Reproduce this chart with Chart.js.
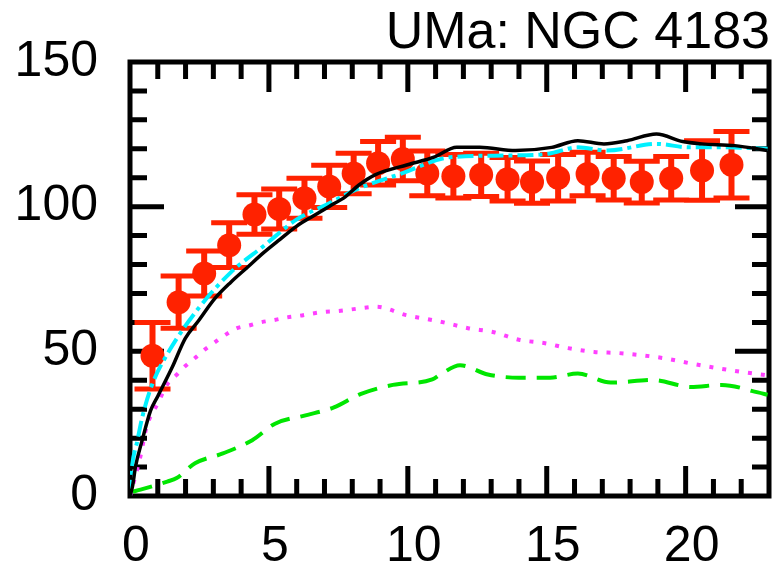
<!DOCTYPE html>
<html><head><meta charset="utf-8">
<script src="https://cdn.jsdelivr.net/npm/chart.js@4"></script>
<style>html,body{margin:0;padding:0;background:#fff}#wrap{width:781px;height:567px}</style>
</head><body><div id="wrap"><canvas id="c" width="781" height="567"></canvas></div>
<script>
const TITLE = 'UMa: NGC 4183';
const xTicks = [0, 5, 10, 15, 20];
const yTicks = [0, 50, 100, 150];

// observed rotation curve
const obsR   = [0.81, 1.75, 2.67, 3.57, 4.48, 5.37, 6.28, 7.17, 8.05, 8.93, 9.82, 10.70, 11.64, 12.64, 13.59, 14.47, 15.41, 16.47, 17.41, 18.42, 19.48, 20.59, 21.65];
const obsV   = [48.5, 67, 76.9, 86.7, 97.3, 99.2, 102.9, 107, 111.5, 115, 116.5, 111.5, 110.5, 111, 109.5, 108.5, 110, 111.3, 109.8, 108.5, 109.8, 112.5, 114.5];
const obsErr = [11.5, 9, 7.8, 7.7, 6.8, 6.9, 6.9, 7.3, 7, 7.5, 7.5, 7.7, 7.5, 7.5, 7.5, 7.3, 8, 7.5, 7.5, 7.2, 7.5, 10.3, 11.5];

// black solid model
const blackR = [0, 0.09, 0.2, 0.44, 0.74, 1.0, 1.51, 1.99, 2.46, 3.05, 3.63, 4.22, 4.81, 5.4, 5.99, 6.58, 7.17, 7.76, 8.23, 8.82, 9.99, 10.94, 11.76, 12.59, 13.88, 15.18, 16.12, 17.06, 17.89, 18.95, 19.89, 20.59, 21.77, 22.95];
const blackV = [0, 3.3, 10.2, 19.3, 29.5, 34.5, 44.3, 54.5, 60.5, 68.2, 73.9, 79, 84.1, 88.7, 93.2, 96.7, 100.1, 103.5, 107.4, 111, 114.5, 117.1, 120.5, 120.5, 119.4, 120.5, 122.8, 121.7, 122.8, 125.1, 122.5, 121.7, 121.1, 119.4];

// cyan dash-dot model
const cyanR = [0, 0.05, 0.27, 0.44, 0.8, 1.4, 2.46, 3.63, 4.81, 5.99, 7.17, 8.23, 9.76, 11.53, 13.65, 15.06, 16.12, 17.18, 18.95, 20.12, 21.42, 22.95];
const cyanV = [0, 8, 19.3, 27.2, 38.6, 50, 64.8, 77.3, 86.4, 95.5, 101.2, 106.3, 111.4, 117.1, 117.7, 118.3, 120.5, 119.4, 121.7, 120.5, 120.5, 120];

// magenta dotted (disk)
const diskR = [0, 0.19, 0.37, 0.6, 1.0, 1.34, 1.69, 1.99, 2.34, 2.69, 3.05, 3.4, 3.85, 4.28, 4.69, 5.17, 5.64, 6.1, 6.58, 7.05, 7.46, 8.4, 8.87, 9.94, 10.88, 11.29, 12.17, 13.1, 14.0, 14.94, 15.77, 16.71, 17.59, 18.47, 19.3, 20.24, 21.07, 22.01, 22.95];
const diskV = [0, 6.8, 13.5, 24, 32, 38.6, 42, 44.9, 47.7, 50.6, 53.1, 55.5, 58, 58.9, 60, 60.8, 61.7, 62.3, 63.1, 63.7, 63.9, 65, 65.4, 62.5, 60.8, 60, 58, 56.6, 54, 52.8, 51.1, 49.8, 49.4, 48.6, 47.5, 45.7, 44.3, 42.9, 41.7];

// green dashed (gas)
const gasR = [0.1, 0.38, 1.34, 1.68, 2.34, 3.34, 4.4, 5.22, 6.28, 7.34, 8.29, 9.46, 10.88, 11.17, 11.88, 12.88, 14.0, 15.12, 16.12, 17.3, 18.83, 20.18, 21.3, 22.6, 22.95];
const gasV = [1.5, 2.2, 5, 6.2, 11.3, 14.7, 19.3, 25, 27.8, 30.6, 35.2, 38.4, 40.3, 42, 45.2, 42, 40.9, 40.9, 42.3, 39.2, 40.1, 37.7, 38.4, 35.8, 35];

const pts = (xs, ys) => xs.map((x, i) => ({x, y: ys[i]}));
const RED = '#ff2200';
const FONT = "'Liberation Sans', Arial, Helvetica, sans-serif";

const framePlugin = {
  id: 'frame',
  beforeDatasetsDraw(chart) {
    const ctx = chart.ctx, xs = chart.scales.x, ys = chart.scales.y;
    const {left, right, top, bottom} = chart.chartArea;
    ctx.save();
    ctx.strokeStyle = '#000';
    ctx.lineWidth = 5;
    ctx.lineCap = 'butt';
    ctx.beginPath();
    for (let v = 1; v < xs.max; v++) {
      const px = xs.getPixelForValue(v);
      const len = v % 5 === 0 ? 30 : 17;
      ctx.moveTo(px, bottom); ctx.lineTo(px, bottom - len);
      ctx.moveTo(px, top); ctx.lineTo(px, top + len);
    }
    for (let v = 10; v < ys.max; v += 10) {
      const py = ys.getPixelForValue(v);
      const len = v % 50 === 0 ? 34 : 17;
      ctx.moveTo(left, py); ctx.lineTo(left + len, py);
      ctx.moveTo(right, py); ctx.lineTo(right - len, py);
    }
    ctx.stroke();
    ctx.strokeRect(left, top, right - left, bottom - top);
    // error bars
    ctx.strokeStyle = RED;
    ctx.beginPath();
    ctx.lineWidth = 6;
    obsR.forEach((r, i) => {
      const px = xs.getPixelForValue(r);
      ctx.moveTo(px, ys.getPixelForValue(obsV[i] + obsErr[i]));
      ctx.lineTo(px, ys.getPixelForValue(obsV[i] - obsErr[i]));
    });
    ctx.stroke();
    ctx.beginPath();
    ctx.lineWidth = 5;
    obsR.forEach((r, i) => {
      const px = xs.getPixelForValue(r);
      [obsV[i] + obsErr[i], obsV[i] - obsErr[i]].forEach(v => {
        const py = ys.getPixelForValue(v);
        ctx.moveTo(px - 18, py); ctx.lineTo(px + 18, py);
      });
    });
    ctx.stroke();
    ctx.restore();
  },
  afterDraw(chart) {
    const ctx = chart.ctx;
    ctx.save();
    ctx.fillStyle = '#000';
    ctx.font = '52px ' + FONT;
    ctx.textAlign = 'right';
    ctx.textBaseline = 'alphabetic';
    ctx.fillText(TITLE, 770, 48);
    ctx.restore();
  }
};

new Chart(document.getElementById('c'), {
  type: 'scatter',
  data: {
    datasets: [
      {label: 'total', data: pts(blackR, blackV), showLine: true, borderColor: '#000', borderWidth: 3.5, pointRadius: 0, cubicInterpolationMode: 'monotone'},
      {label: 'model', data: pts(cyanR, cyanV), showLine: true, borderColor: '#00f0ff', borderWidth: 4, borderDash: [16, 5, 4, 5], pointRadius: 0, cubicInterpolationMode: 'monotone'},
      {label: 'disk', data: pts(diskR, diskV), showLine: true, borderColor: '#ff40ff', borderWidth: 4, borderDash: [4, 9], pointRadius: 0, cubicInterpolationMode: 'monotone'},
      {label: 'gas', data: pts(gasR, gasV), showLine: true, borderColor: '#00e600', borderWidth: 4, borderDash: [20, 11], pointRadius: 0, cubicInterpolationMode: 'monotone'},
      {label: 'obs', data: pts(obsR, obsV), showLine: false, backgroundColor: RED, borderWidth: 0, pointRadius: 12}
    ]
  },
  options: {
    responsive: false,
    animation: false,
    devicePixelRatio: 1,
    layout: {padding: {top: 57, right: 2, left: 0, bottom: 0}},
    plugins: {legend: {display: false}, tooltip: {enabled: false}, title: {display: false}},
    scales: {
      x: {
        type: 'linear', min: 0, max: 23,
        afterBuildTicks: s => { s.ticks = xTicks.map(v => ({value: v})); },
        afterFit: s => { s.height = 71; },
        grid: {display: false, drawTicks: false},
        border: {display: false},
        ticks: {color: '#000', font: {size: 50, family: FONT}, padding: 21, labelOffset: 6, maxRotation: 0, autoSkip: false}
      },
      y: {
        type: 'linear', min: 0, max: 150,
        afterBuildTicks: s => { s.ticks = yTicks.map(v => ({value: v})); },
        afterFit: s => { s.width = 130; },
        grid: {display: false, drawTicks: false},
        border: {display: false},
        ticks: {color: '#000', font: {size: 50, family: FONT}, padding: 32, autoSkip: false}
      }
    }
  },
  plugins: [framePlugin]
});
</script>
</body></html>
